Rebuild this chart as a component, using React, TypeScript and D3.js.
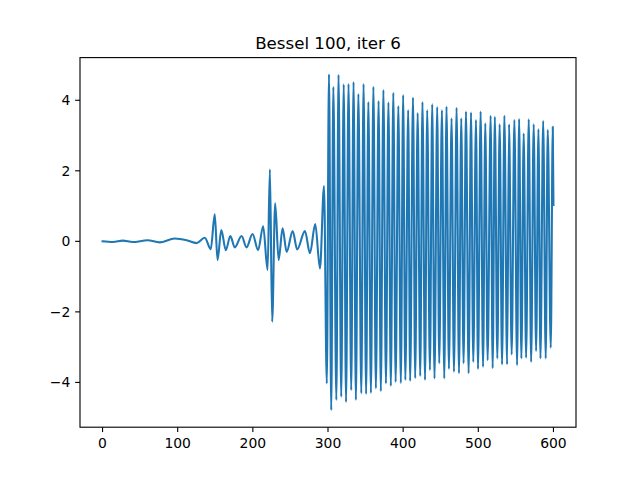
import React from "react";
import * as d3 from "d3";

const title = "Bessel 100, iter 6";

// Extrema / points (x, y)
const quietX = [0, 14, 27, 40, 60, 76, 96, 112, 125, 136, 144, 149.3, 153, 158, 164, 170, 176, 185, 191.6, 199.6, 207, 213.7, 219.6, 222.7, 225.7, 229.7, 234.3, 239.6, 245, 253, 259, 269.3, 276, 283, 289.3, 294.7];
const quietY = [0.0, -0.02, 0.02, -0.02, 0.03, -0.03, 0.08, 0.03, -0.05, 0.1, -0.22, 0.77, -0.53, 0.32, -0.25, 0.15, -0.17, 0.15, -0.17, 0.21, -0.25, 0.43, -0.81, 2.04, -2.28, 1.08, -0.53, 0.37, -0.3, 0.29, -0.23, 0.29, -0.34, 0.49, -0.77, 1.57];

const burstX = [298.4, 301.3, 304.3, 307.1, 311.1, 314, 317.6, 320.9, 324, 327.3, 330.9, 334, 337.1, 340.4, 344.3, 347.3, 350.7, 353.7, 357.1, 360.4, 363.7, 367.3, 370.3, 373.7, 377.1, 380.4, 383.6, 386.9, 390, 393.6, 396.9, 400, 402.9, 406.7, 409.3, 413.1, 416, 419.3, 422.7, 425.7, 429.1, 432, 435.6, 438.7, 441.7, 445.3, 448, 451.6, 454.7, 457.7, 460.9, 464.4, 467.6, 471.1, 474.3, 477.3, 480.4, 483.6, 487.1, 490.3, 493.3, 496.9, 499.6, 503.1, 506.3, 509.3, 512.4, 516.4, 519.1, 522, 525.3, 528.4, 531.6, 534.7, 538.3, 540.9, 544.4, 548, 551.6, 554.3, 557.3, 560.4, 563.6, 567.1, 570.3, 573.7, 576.9, 580, 582.7, 586.3, 589.7, 592.4, 596.4, 599.1, 600];
const burstY = [-4.03, 4.74, -4.79, 4.38, -4.5, 4.72, -4.41, 4.45, -4.56, 4.46, -4.22, 4.52, -4.5, 4.18, -4.31, 4.46, -4.33, 3.95, -4.3, 4.38, -4.17, 3.98, -4.25, 4.29, -4.03, 3.94, -4.1, 4.21, -3.99, 3.84, -4.02, 4.15, -3.93, 3.72, -3.96, 4.08, -3.88, 3.64, -3.82, 3.95, -3.93, 3.72, -3.65, 3.89, -3.89, 3.81, -3.46, 3.72, -3.89, 3.82, -3.62, 3.49, -3.7, 3.79, -3.74, 3.49, -3.46, 3.68, -3.74, 3.65, -3.42, 3.44, -3.62, 3.68, -3.56, 3.35, -3.37, 3.56, -3.6, 3.53, -3.32, 3.32, -3.49, 3.56, -3.49, 3.32, -3.21, 3.44, -3.51, 3.47, -3.32, 3.06, -3.3, 3.46, -3.42, 3.32, -3.11, 3.18, -3.32, 3.41, -3.32, 3.16, -3.02, 3.25, 1.03];

const xTicks = [0, 100, 200, 300, 400, 500, 600];
const yTicks = [-4, -2, 0, 2, 4];

const W = 640;
const H = 480;
const L = 80, R = 576, T = 57.6, B = 427.2;
const FONT = "'DejaVu Sans', sans-serif";

export default function App() {
  const x = d3.scaleLinear().domain([-30, 630]).range([L, R]);
  const y = d3.scaleLinear().domain([-5.27, 5.21]).range([B, T]);
  const pts: [number, number][] = [
    ...quietX.map((v, i) => [v, quietY[i]] as [number, number]),
    ...burstX.map((v, i) => [v, burstY[i]] as [number, number]),
  ];
  const line = d3
    .line<[number, number]>()
    .x((d) => x(d[0]))
    .y((d) => y(d[1]))
    .curve(d3.curveMonotoneX);
  const fmt = (v: number) => (v < 0 ? "\u2212" + Math.abs(v) : String(v));
  return (
    <div style={{ position: "fixed", left: 0, top: 0, width: W, height: H, background: "#fff" }}>
      <svg width={W} height={H} viewBox={`0 0 ${W} ${H}`} style={{ display: "block" }}>
        <rect x={0} y={0} width={W} height={H} fill="#fff" />
        <defs>
          <clipPath id="plotclip">
            <rect x={L} y={T} width={R - L} height={B - T} />
          </clipPath>
        </defs>
        <path
          d={line(pts) || ""}
          fill="none"
          stroke="#1f77b4"
          strokeWidth={2.08}
          strokeLinejoin="round"
          strokeLinecap="square"
          clipPath="url(#plotclip)"
        />
        <rect x={L} y={T} width={R - L} height={B - T} fill="none" stroke="#000" strokeWidth={1.11} />
        {xTicks.map((t) => (
          <g key={"x" + t}>
            <line x1={x(t)} x2={x(t)} y1={B} y2={B + 4.86} stroke="#000" strokeWidth={1.11} />
            <text x={x(t)} y={B + 20.3} textAnchor="middle" fontFamily={FONT} fontSize={13.9} fill="#000">
              {fmt(t)}
            </text>
          </g>
        ))}
        {yTicks.map((t) => (
          <g key={"y" + t}>
            <line x1={L - 4.86} x2={L} y1={y(t)} y2={y(t)} stroke="#000" strokeWidth={1.11} />
            <text x={L - 9.7} y={y(t)} dy="0.36em" textAnchor="end" fontFamily={FONT} fontSize={13.9} fill="#000">
              {fmt(t)}
            </text>
          </g>
        ))}
        <text x={(L + R) / 2} y={49.3} textAnchor="middle" fontFamily={FONT} fontSize={16.67} fill="#000">
          {title}
        </text>
      </svg>
    </div>
  );
}
